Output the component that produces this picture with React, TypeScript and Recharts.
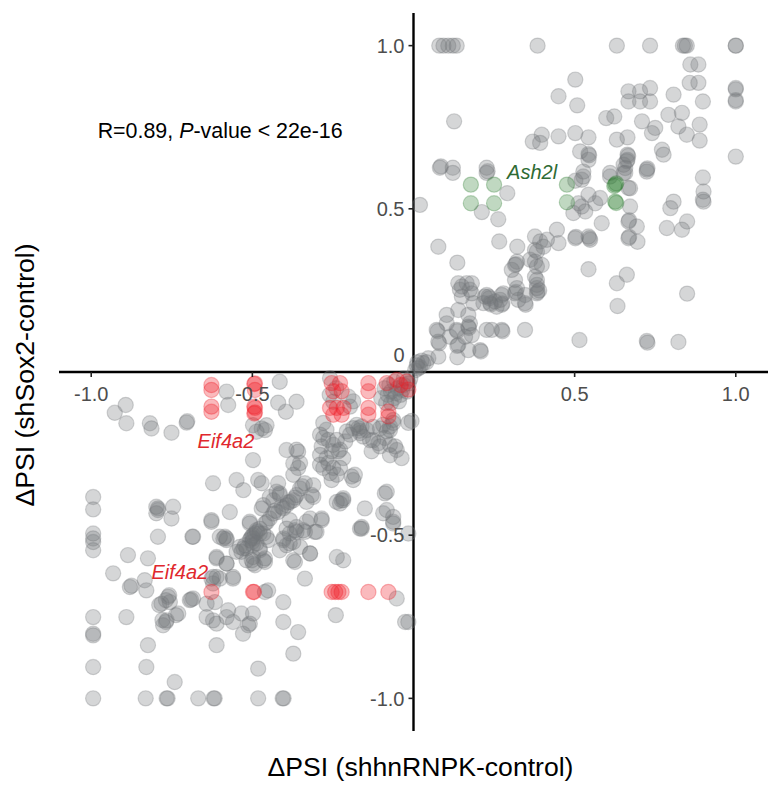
import React from 'react';
import { ScatterChart, Scatter, XAxis, YAxis, ReferenceLine } from 'recharts';

// ---- data ----
const grayPoints: [number, number][] = [
  // upper-right quadrant
  [0.08, 1], [0.093, 1], [0.108, 1], [0.122, 1], [0.134, 1], [0.385, 1], [0.631, 1], [0.734, 1], [0.836, 1], [0.848, 1], [0.842, 1], [1, 1], [1, 1],
  [0.859, 0.942], [0.884, 0.942], [0.502, 0.896], [0.857, 0.886], [0.884, 0.886],
  [1, 0.87], [1, 0.866], [1, 0.829], [1, 0.833], [0.45, 0.845], [0.508, 0.817],
  [0.667, 0.86], [0.703, 0.86], [0.734, 0.87], [0.667, 0.829], [0.703, 0.829], [0.734, 0.829],
  [0.807, 0.85], [0.898, 0.829], [0.126, 0.768], [0.598, 0.778], [0.623, 0.783], [0.709, 0.768],
  [0.791, 0.788], [0.833, 0.794], [0.75, 0.748], [0.74, 0.732], [0.822, 0.752], [0.848, 0.727], [0.888, 0.758], [0.888, 0.709],
  [0.398, 0.727], [0.45, 0.722], [0.502, 0.732], [0.543, 0.719], [0.393, 0.702], [0.37, 0.706],
  [0.631, 0.712], [0.664, 0.719], [1, 0.66], [0.771, 0.681], [0.776, 0.666],
  [0.517, 0.676], [0.543, 0.668], [0.545, 0.664], [0.543, 0.65],
  [0.664, 0.666], [0.666, 0.662], [0.664, 0.65], [0.662, 0.646], [0.657, 0.625], [0.724, 0.62], [0.726, 0.624],
  [0.898, 0.596], [0.9, 0.553], [0.898, 0.528], [0.9, 0.522],
  [0.527, 0.614], [0.522, 0.589], [0.502, 0.586], [0.61, 0.61], [0.652, 0.635], [0.657, 0.61], [0.667, 0.564],
  [0.807, 0.522], [0.797, 0.502],
  [0.082, 0.626], [0.085, 0.63], [0.122, 0.626], [0.122, 0.61], [0.227, 0.626], [0.227, 0.61], [0.23, 0.615],
  [0.291, 0.548], [0.02, 0.512], [0.212, 0.49], [0.263, 0.468], [0.672, 0.563], [0.672, 0.507],
  [0.527, 0.599], [0.512, 0.517], [0.533, 0.492], [0.496, 0.487], [0.543, 0.543], [0.564, 0.517], [0.579, 0.533], [0.522, 0.507],
  [0.61, 0.599], [0.652, 0.609], [0.724, 0.614],
  [0.786, 0.441], [0.833, 0.436], [0.849, 0.461],
  [0.667, 0.461], [0.669, 0.465], [0.693, 0.446], [0.667, 0.41], [0.669, 0.414], [0.695, 0.399], [0.584, 0.456],
  [0.502, 0.41], [0.504, 0.414], [0.543, 0.415], [0.548, 0.405], [0.546, 0.41], [0.543, 0.315],
  [0.662, 0.298], [0.631, 0.272], [0.633, 0.202], [0.849, 0.24],
  [0.377, 0.415], [0.393, 0.4], [0.414, 0.405], [0.445, 0.436], [0.45, 0.395], [0.403, 0.384], [0.377, 0.374], [0.362, 0.344],
  [0.383, 0.323], [0.377, 0.292], [0.383, 0.267],
  [0.077, 0.384], [0.136, 0.335], [0.266, 0.4], [0.322, 0.384], [0.383, 0.369], [0.377, 0.338], [0.398, 0.328],
  [0.315, 0.328], [0.305, 0.313], [0.321, 0.338], [0.318, 0.33],
  [0.139, 0.272], [0.165, 0.272], [0.144, 0.252], [0.181, 0.272], [0.15, 0.231], [0.181, 0.241], [0.175, 0.252], [0.15, 0.262],
  [0.186, 0.211], [0.217, 0.211], [0.233, 0.231], [0.235, 0.226], [0.238, 0.211], [0.24, 0.207], [0.253, 0.216], [0.269, 0.221],
  [0.274, 0.206], [0.276, 0.21], [0.258, 0.2], [0.222, 0.231], [0.279, 0.241], [0.227, 0.236], [0.274, 0.236],
  [0.315, 0.282], [0.321, 0.257], [0.315, 0.241], [0.318, 0.245], [0.325, 0.221], [0.346, 0.211], [0.348, 0.206], [0.346, 0.236],
  [0.383, 0.282], [0.383, 0.257], [0.383, 0.241], [0.385, 0.245], [0.39, 0.25], [0.346, 0.129],
  [0.103, 0.175], [0.139, 0.19], [0.17, 0.175], [0.175, 0.149],
  [0.072, 0.129], [0.075, 0.125], [0.077, 0.093], [0.08, 0.088], [0.134, 0.129], [0.136, 0.125], [0.139, 0.083], [0.136, 0.08],
  [0.17, 0.139], [0.172, 0.135], [0.16, 0.108], [0.181, 0.113], [0.207, 0.067], [0.209, 0.063], [0.17, 0.067], [0.136, 0.045],
  [0.103, 0.149], [0.113, 0.108], [0.227, 0.129], [0.243, 0.129], [0.274, 0.129], [0.276, 0.125],
  [0.515, 0.098], [0.724, 0.095], [0.726, 0.09], [0.822, 0.092],
  [0.03, 0.027], [0.046, 0.042], [0.077, 0.047], [0.015, 0.011], [0.02, 0.015], [0.01, 0.02], [0.005, 0.005], [0.025, 0.035], [0.04, 0.03], [0.012, 0.03],
  // lower-left quadrant
  [-0.893, -0.101], [-0.927, -0.125], [-0.891, -0.157], [-0.818, -0.157], [-0.813, -0.173], [-0.751, -0.186],
  [-0.704, -0.155], [-0.702, -0.151], [-0.58, -0.06], [-0.575, -0.101], [-0.415, -0.03],
  [-0.42, -0.094], [-0.363, -0.091], [-0.396, -0.122], [-0.498, -0.163], [-0.471, -0.173], [-0.456, -0.163], [-0.487, -0.183], [-0.461, -0.178],
  [-0.498, -0.27], [-0.394, -0.239], [-0.358, -0.244],
  [-0.187, -0.09], [-0.197, -0.106], [-0.202, -0.076], [-0.259, -0.019], [-0.249, -0.091], [-0.24, -0.05], [-0.26, -0.07],
  [-0.176, -0.162], [-0.171, -0.172], [-0.161, -0.167], [-0.187, -0.172], [-0.166, -0.187], [-0.168, -0.18],
  [-0.09, -0.05], [-0.08, -0.07], [-0.07, -0.06], [-0.06, -0.08], [-0.05, -0.05], [-0.04, -0.07], [-0.03, -0.04], [-0.06, -0.03],
  [-0.1, -0.08], [-0.045, -0.09], [-0.02, -0.06], [-0.01, -0.02], [-0.03, -0.02], [-0.07, -0.095], [-0.085, -0.095],
  [-0.055, -0.065], [-0.035, -0.055], [-0.015, -0.035], [-0.075, -0.04],
  [-0.016, -0.156], [-0.006, -0.15],
  [-0.28, -0.156], [-0.27, -0.177], [-0.29, -0.192], [-0.28, -0.202], [-0.264, -0.208], [-0.285, -0.228], [-0.249, -0.223],
  [-0.238, -0.208], [-0.254, -0.243], [-0.233, -0.243], [-0.228, -0.238], [-0.207, -0.182], [-0.197, -0.192], [-0.212, -0.213],
  [-0.13, -0.243], [-0.109, -0.218], [-0.089, -0.202], [-0.073, -0.223], [-0.057, -0.228], [-0.104, -0.228], [-0.083, -0.182],
  [-0.073, -0.167], [-0.094, -0.162], [-0.063, -0.156], [-0.037, -0.264],
  [-0.363, -0.238], [-0.352, -0.279], [-0.358, -0.294], [-0.373, -0.315],
  [-0.29, -0.254], [-0.27, -0.264], [-0.29, -0.284], [-0.28, -0.294], [-0.249, -0.294], [-0.264, -0.279], [-0.218, -0.264],
  [-0.228, -0.294], [-0.259, -0.31], [-0.238, -0.315], [-0.192, -0.32], [-0.182, -0.315],
  [-0.145, -0.178], [-0.135, -0.209], [-0.254, -0.331], [-0.187, -0.331], [-0.373, -0.28],
  [-0.337, -0.341], [-0.352, -0.357], [-0.363, -0.377], [-0.373, -0.393], [-0.383, -0.398], [-0.394, -0.408], [-0.409, -0.413],
  [-0.42, -0.429], [-0.435, -0.434], [-0.446, -0.449], [-0.461, -0.464], [-0.477, -0.48], [-0.492, -0.495], [-0.502, -0.505],
  [-0.508, -0.515], [-0.523, -0.531], [-0.528, -0.541],
  [-0.345, -0.35], [-0.368, -0.385], [-0.39, -0.4], [-0.404, -0.418], [-0.43, -0.425], [-0.455, -0.46], [-0.485, -0.49],
  [-0.498, -0.5], [-0.505, -0.51], [-0.5, -0.52],
  [-0.311, -0.347], [-0.316, -0.377], [-0.332, -0.398],
  [-0.425, -0.367], [-0.415, -0.372], [-0.446, -0.383], [-0.466, -0.408], [-0.471, -0.418], [-0.415, -0.377], [-0.435, -0.393],
  [-0.482, -0.331], [-0.42, -0.341], [-0.471, -0.341], [-0.549, -0.331], [-0.528, -0.362], [-0.622, -0.341],
  [-0.57, -0.429], [-0.627, -0.454], [-0.508, -0.459], [-0.487, -0.485], [-0.466, -0.495], [-0.451, -0.515],
  [-0.684, -0.505], [-0.585, -0.505], [-0.58, -0.51], [-0.59, -0.51],
  [-0.384, -0.454], [-0.363, -0.475], [-0.342, -0.485], [-0.332, -0.459], [-0.321, -0.449], [-0.306, -0.49], [-0.285, -0.449],
  [-0.384, -0.495], [-0.368, -0.485], [-0.373, -0.521], [-0.394, -0.531], [-0.352, -0.536], [-0.321, -0.556],
  [-0.238, -0.398], [-0.223, -0.393], [-0.218, -0.387],
  [-0.151, -0.418], [-0.083, -0.423], [-0.083, -0.367], [-0.063, -0.459], [-0.166, -0.48],
  [-0.238, -0.567], [-0.218, -0.577], [-0.373, -0.577], [-0.461, -0.571], [-0.498, -0.567], [-0.611, -0.567],
  [-0.994, -0.383], [-0.994, -0.421],
  [-0.793, -0.418], [-0.798, -0.433], [-0.746, -0.413], [-0.751, -0.449], [-0.798, -0.413], [-0.793, -0.423],
  [-0.994, -0.495], [-0.994, -0.51], [-0.994, -0.521], [-0.994, -0.546], [-0.793, -0.505], [-0.686, -0.505],
  [-0.508, -0.464], [-0.518, -0.541], [-0.498, -0.51], [-0.477, -0.495], [-0.456, -0.505], [-0.487, -0.525], [-0.477, -0.546],
  [-0.466, -0.577], [-0.502, -0.577], [-0.492, -0.592], [-0.539, -0.536],
  [-0.404, -0.51], [-0.394, -0.48], [-0.415, -0.546],
  [-0.886, -0.561], [-0.824, -0.571], [-0.932, -0.617], [-0.88, -0.659], [-0.829, -0.669], [-0.834, -0.638], [-0.875, -0.655],
  [-0.611, -0.571], [-0.58, -0.587], [-0.611, -0.628], [-0.56, -0.628], [-0.627, -0.633], [-0.622, -0.648],
  [-0.782, -0.71], [-0.761, -0.689], [-0.73, -0.74], [-0.756, -0.705], [-0.777, -0.776], [-0.766, -0.761],
  [-0.694, -0.699], [-0.684, -0.694], [-0.69, -0.697],
  [-0.642, -0.71], [-0.616, -0.705], [-0.642, -0.751], [-0.622, -0.761], [-0.611, -0.771], [-0.58, -0.751], [-0.575, -0.73],
  [-0.56, -0.766], [-0.534, -0.74], [-0.529, -0.802], [-0.508, -0.771], [-0.498, -0.74], [-0.451, -0.669], [-0.461, -0.674],
  [-0.404, -0.705], [-0.404, -0.766],
  [-0.994, -0.751], [-0.994, -0.802], [-0.994, -0.807], [-0.891, -0.751],
  [-0.824, -0.837], [-0.829, -0.904], [-0.741, -0.95], [-0.994, -0.904],
  [-0.994, -1], [-0.831, -1], [-0.766, -1], [-0.763, -1], [-0.668, -1], [-0.62, -1], [-0.617, -1], [-0.482, -1], [-0.406, -1], [-0.403, -1],
  [-0.482, -0.909], [-0.611, -0.837], [-0.513, -0.776], [-0.358, -0.797], [-0.373, -0.863], [-0.241, -0.745],
  [-0.337, -0.633], [-0.321, -0.556], [-0.368, -0.582], [-0.384, -0.525], [-0.404, -0.515], [-0.363, -0.49], [-0.337, -0.49],
  [-0.301, -0.49], [-0.285, -0.454],
  [-0.161, -0.48], [-0.052, -0.694], [-0.026, -0.766], [-0.016, -0.766], [-0.063, -0.464],
  [-0.311, -0.383], [-0.218, -0.393], [-0.228, -0.403], [-0.089, -0.372], [-0.094, -0.433], [-0.161, -0.475], [-0.063, -0.444], [-0.016, -0.495],
  [-0.125, -0.168], [-0.104, -0.173], [-0.063, -0.147], [-0.073, -0.178],
  [-0.156, -0.198], [-0.125, -0.209], [-0.052, -0.239], [-0.073, -0.255],
  [-0.498, -0.531], [-0.534, -0.551], [-0.549, -0.551], [-0.477, -0.541], [-0.461, -0.582], [-0.498, -0.587], [-0.518, -0.577],
  [-0.58, -0.587], [-0.622, -0.628], [-0.601, -0.633], [-0.56, -0.633], [-0.58, -0.515], [-0.601, -0.505], [-0.627, -0.459],
  [-0.789, -0.714], [-0.768, -0.699], [-0.758, -0.684], [-0.779, -0.76], [-0.768, -0.766], [-0.737, -0.745],
];

const redPoints: [number, number][] = [
  [-0.627, -0.04], [-0.627, -0.055], [-0.627, -0.106], [-0.627, -0.122],
  [-0.492, -0.035], [-0.494, -0.037], [-0.492, -0.055], [-0.494, -0.106], [-0.492, -0.11], [-0.494, -0.127], [-0.492, -0.124],
  [-0.254, -0.034], [-0.228, -0.034], [-0.249, -0.059], [-0.223, -0.059], [-0.259, -0.11], [-0.238, -0.11], [-0.217, -0.11],
  [-0.249, -0.131], [-0.223, -0.131],
  [-0.14, -0.034], [-0.14, -0.059], [-0.14, -0.11], [-0.14, -0.131],
  [-0.083, -0.034], [-0.078, -0.121], [-0.078, -0.136],
  [-0.052, -0.024], [-0.021, -0.029], [-0.016, -0.054], [-0.04, -0.04],
  [-0.627, -0.674], [-0.498, -0.674], [-0.495, -0.674], [-0.254, -0.674], [-0.243, -0.674], [-0.233, -0.674], [-0.223, -0.674],
  [-0.14, -0.674], [-0.078, -0.674],
];

const greenPoints: [number, number][] = [
  [0.178, 0.574], [0.25, 0.574], [0.178, 0.517], [0.25, 0.517], [0.476, 0.574], [0.476, 0.52],
  [0.626, 0.574], [0.629, 0.578], [0.626, 0.522], [0.629, 0.518], [0.623, 0.57],
];

const xTicks = [-1, -0.5, 0.5, 1];
const yTicks = [-1, -0.5, 0, 0.5, 1];

const geneLabels = [
  { x: 0.368, y: 0.613, text: 'Ash2l', color: '#2f6b34' },
  { x: -0.582, y: -0.212, text: 'Eif4a2', color: '#e0282e' },
  { x: -0.725, y: -0.613, text: 'Eif4a2', color: '#e0282e' },
];

const statLabel = [{ x: -0.98, y: 0.742 }];

const FONT = '"Liberation Sans", Arial, Helvetica, sans-serif';
const DOMAIN: [number, number] = [-1.1, 1.1];

const toObj = (arr: [number, number][]) => arr.map(([x, y]) => ({ x, y }));
const fmt = (v: number) => (v === 0 ? '0' : v.toFixed(1));

const makeDot = (color: string) => (p: any) => (
  <circle cx={p.cx} cy={p.cy} r={7.6} fill={color} fillOpacity={0.3} stroke={color} strokeOpacity={0.3} strokeWidth={1.2} />
);

const XTickShape = (p: any) => (
  <g>
    <line x1={p.cx} x2={p.cx} y1={p.cy} y2={p.cy + 5} stroke="#222" strokeWidth={1.6} />
    <text x={p.cx} y={p.cy + 29} textAnchor="middle" fontSize={20} fill="#4d4d4d" fontFamily={FONT}>
      {fmt(p.payload.x)}
    </text>
  </g>
);

const YTickShape = (p: any) => {
  const v = p.payload.y;
  return (
    <g>
      <line x1={p.cx - 5} x2={p.cx} y1={p.cy} y2={p.cy} stroke="#222" strokeWidth={1.6} />
      <text x={p.cx - 9} y={v === 0 ? p.cy - 17 : p.cy} dy="0.36em" textAnchor="end" fontSize={20} fill="#4d4d4d" fontFamily={FONT}>
        {fmt(v)}
      </text>
    </g>
  );
};

const GeneLabelShape = (p: any) => (
  <text x={p.cx} y={p.cy} dy="0.36em" textAnchor="middle" fontSize={20} fontStyle="italic" fill={p.payload.color} fontFamily={FONT}>
    {p.payload.text}
  </text>
);

const StatShape = (p: any) => (
  <text x={p.cx} y={p.cy} dy="0.36em" textAnchor="start" fontSize={21.4} fill="#000" fontFamily={FONT}>
    R=0.89, <tspan fontStyle="italic">P</tspan>-value &lt; 22e-16
  </text>
);

export default function App() {
  return (
    <div style={{ position: 'absolute', left: 0, top: 0, width: 771, height: 787, background: '#fff' }}>
      <ScatterChart width={771} height={787} margin={{ top: 13, right: 3, bottom: 56, left: 59 }}>
        <XAxis type="number" dataKey="x" domain={DOMAIN} hide allowDataOverflow />
        <YAxis type="number" dataKey="y" domain={DOMAIN} hide allowDataOverflow />
        <Scatter data={toObj(grayPoints)} shape={makeDot('#74767b')} isAnimationActive={false} />
        <Scatter data={toObj(redPoints)} shape={makeDot('#ee1c25')} isAnimationActive={false} />
        <Scatter data={toObj(greenPoints)} shape={makeDot('#2e7d32')} isAnimationActive={false} />
        <ReferenceLine x={0} stroke="#000" strokeWidth={2.4} />
        <ReferenceLine y={0} stroke="#000" strokeWidth={2.4} />
        <Scatter data={xTicks.map((x) => ({ x, y: 0 }))} shape={XTickShape} isAnimationActive={false} />
        <Scatter data={yTicks.map((y) => ({ x: 0, y }))} shape={YTickShape} isAnimationActive={false} />
        <Scatter data={geneLabels} shape={GeneLabelShape} isAnimationActive={false} />
        <Scatter data={statLabel} shape={StatShape} isAnimationActive={false} />
      </ScatterChart>
      <div style={{ position: 'absolute', left: 0, width: 771, top: 752, textAlign: 'center', paddingLeft: 70, boxSizing: 'border-box', fontFamily: FONT, fontSize: 26.6, color: '#000', lineHeight: '30px' }}>
        ΔPSI (shhnRNPK-control)
      </div>
      <div style={{ position: 'absolute', left: 25, top: 375, width: 0, height: 0 }}>
        <div style={{ position: 'absolute', transform: 'translate(-50%, -50%) rotate(-90deg)', whiteSpace: 'nowrap', fontFamily: FONT, fontSize: 26.6, color: '#000', lineHeight: '30px' }}>
          ΔPSI (shSox2-control)
        </div>
      </div>
    </div>
  );
}
